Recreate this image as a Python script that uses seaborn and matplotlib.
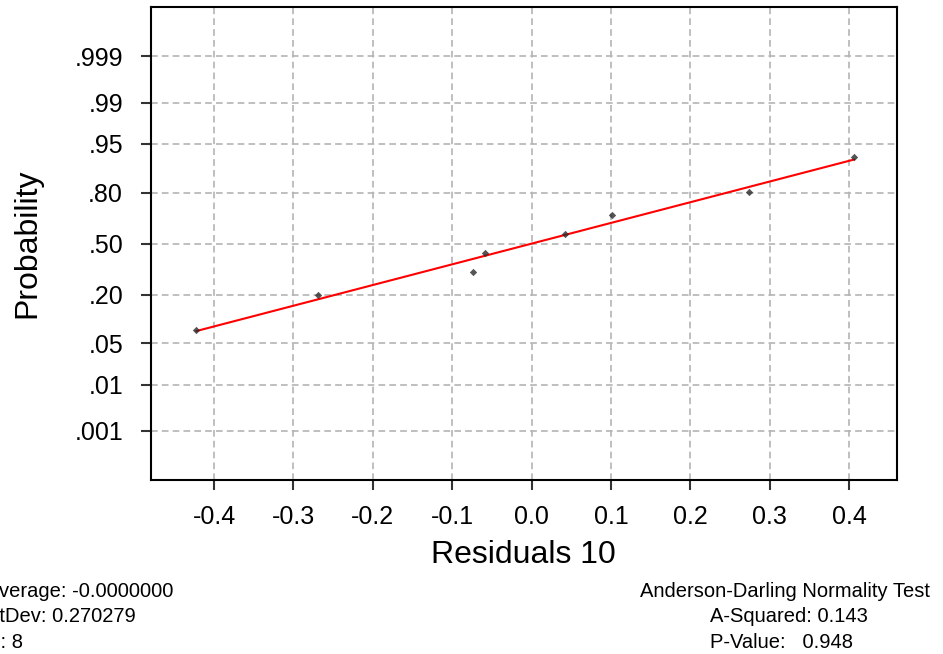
import numpy as np
import pandas as pd
import seaborn as sns
import matplotlib.pyplot as plt
from statistics import NormalDist

residuals = [-0.4224, -0.2688, -0.0736, -0.0592, 0.0423, 0.1015, 0.2737, 0.4063]
probability = [0.076, 0.197, 0.318, 0.439, 0.561, 0.682, 0.803, 0.924]

prob_ticks = [0.001, 0.01, 0.05, 0.20, 0.50, 0.80, 0.95, 0.99, 0.999]
prob_labels = [".001", ".01", ".05", ".20", ".50", ".80", ".95", ".99", ".999"]
x_ticks = [-0.4, -0.3, -0.2, -0.1, 0.0, 0.1, 0.2, 0.3, 0.4]
x_labels = ["-0.4", "-0.3", "-0.2", "-0.1", "0.0", "0.1", "0.2", "0.3", "0.4"]

stats_left = ["Average: -0.0000000", "StDev: 0.270279", "N: 8"]
stats_right = ["Anderson-Darling Normality Test", "A-Squared: 0.143", "P-Value:   0.948"]

sns.set_style("white")
plt.rcParams['font.family'] = ['Liberation Sans', 'DejaVu Sans']
plt.rcParams.update({"text.color": "black", "axes.labelcolor": "black",
                     "xtick.color": "#333333", "ytick.color": "#333333",
                     "xtick.labelcolor": "black", "ytick.labelcolor": "black"})

# normal probability scale -> plot on z (probit) values
nd = NormalDist()
df = pd.DataFrame({"resid": residuals, "z": [nd.inv_cdf(p) for p in probability]})

fig = plt.figure(figsize=(9.43, 6.54), dpi=100)
ax = fig.add_axes([0.160, 0.266, 0.791, 0.723])

sns.regplot(data=df, x="resid", y="z", ci=None, ax=ax, marker="D",
            scatter_kws=dict(s=14, color="#2b2b2b", linewidths=0, zorder=3),
            line_kws=dict(color="red", lw=1.5, zorder=2))

ax.set_xlim(-0.4795, 0.4598)
ax.set_ylim(-3.9, 3.9)
ax.set_yticks([nd.inv_cdf(p) for p in prob_ticks], prob_labels)
ax.set_xticks(x_ticks, x_labels)

ax.set_axisbelow(True)
ax.grid(True, color="#b4b4b4", ls=(0, (4, 2.5)), lw=1.2)
ax.tick_params(direction="out", length=7, width=1.5,
               labelsize=18, left=True, bottom=True)
ax.tick_params(axis="y", pad=13)
ax.tick_params(axis="x", pad=11)
for s in ax.spines.values():
    s.set_visible(True)
    s.set_color("black")
    s.set_linewidth(1.5)

ax.set_xlabel("Residuals 10", fontsize=23, labelpad=8)
ax.set_ylabel("Probability", fontsize=23, labelpad=23)

# summary text under the plot (left block starts off the edge, as in the original)
for i, line in enumerate(stats_left):
    fig.text(-14 / 943, 1 - (597 + 25.5 * i) / 654, line, fontsize=14.5, va="baseline", ha="left")
fig.text(785 / 943, 1 - 597 / 654, stats_right[0], fontsize=14.5, va="baseline", ha="center")
for i, line in enumerate(stats_right[1:]):
    fig.text(710 / 943, 1 - (622.5 + 25.5 * i) / 654, line, fontsize=14.5, va="baseline", ha="left")

fig.savefig("out.png", dpi=100)
